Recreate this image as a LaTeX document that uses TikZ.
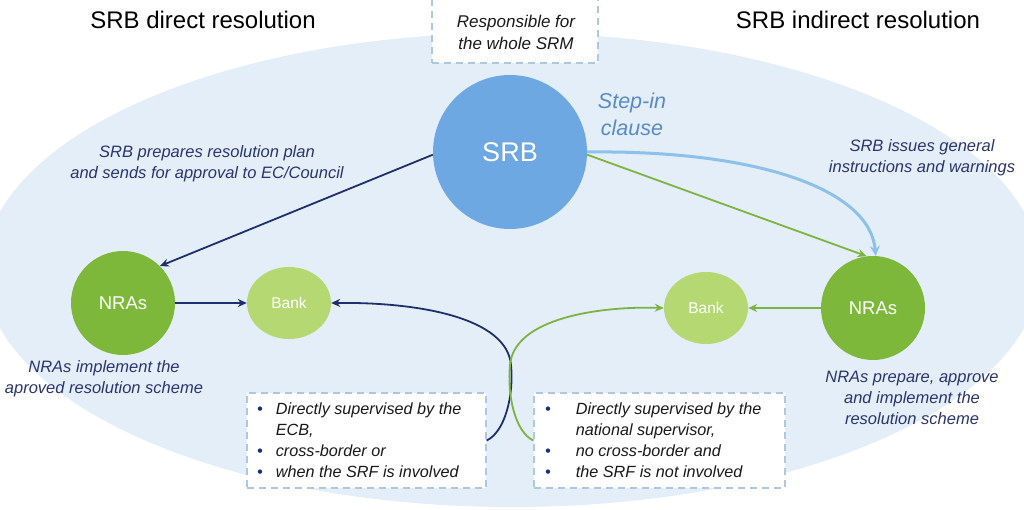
\documentclass[tikz,border=0pt]{standalone}
\usepackage{fontspec}
\setmainfont{Liberation Sans}
\usetikzlibrary{shapes.geometric,arrows.meta}
\definecolor{bgell}{HTML}{E4EEF8}
\definecolor{srbblue}{HTML}{6EA8E2}
\definecolor{nragreen}{HTML}{7DB83A}
\definecolor{bankgreen}{HTML}{B5D872}
\definecolor{navy}{HTML}{1F2F6E}
\definecolor{labelnavy}{HTML}{2A3470}
\definecolor{lightarrow}{HTML}{8DC0EA}
\definecolor{greenarrow}{HTML}{7CB342}
\definecolor{stepblue}{HTML}{5A8AC6}
\definecolor{dashcol}{HTML}{AFC8DE}
\definecolor{boxtext}{HTML}{1A1A1A}
\begin{document}
\begin{tikzpicture}[x=1pt,y=-1pt,
  bigcircle/.style={circle, fill=srbblue, minimum size=154pt, inner sep=0pt, text=white, font=\fontsize{27}{30}\selectfont},
  nracircle/.style={circle, fill=nragreen, minimum size=104pt, inner sep=0pt, text=white, font=\fontsize{18.5}{22}\selectfont},
  bankell/.style={ellipse, fill=bankgreen, minimum width=84pt, minimum height=72pt, inner sep=0pt, text=white, font=\fontsize{15.5}{18}\selectfont},
  dbox/.style={rectangle, draw=dashcol, fill=white, line width=1.3pt, dash pattern=on 7pt off 5pt, inner sep=0pt},
  navyarr/.style={draw=navy, line width=1.8pt, -{Stealth[length=9pt,width=8pt]}},
  greenarr/.style={draw=greenarrow, line width=1.8pt, -{Stealth[length=9pt,width=8pt]}},
  bluearr/.style={draw=lightarrow, line width=3pt, -{Stealth[length=10pt,width=10pt]}},
  heading/.style={font=\fontsize{24}{28}\selectfont, text=black},
  label/.style={font=\itshape\fontsize{16.5}{21}\selectfont, text=labelnavy, align=center},
  boxlist/.style={font=\itshape\fontsize{16.2}{21}\selectfont, text=boxtext, inner sep=0pt, anchor=north west}
]
\useasboundingbox (0,0) rectangle (1024,510);
\clip (0,0) rectangle (1024,510);
\fill[bgell] (512,270) ellipse [x radius=528pt, y radius=237pt];

% headings
\node[heading] (hleft) at (203,20) {SRB direct resolution};
\node[heading] (hright) at (858,20) {SRB indirect resolution};

% top box
\node[dbox, minimum width=166pt, minimum height=70pt] (topbox) at (515,28) {};
\node[font=\itshape\fontsize{17}{22}\selectfont, text=boxtext, align=center] (toptext) at (516,32) {Responsible for\\the whole SRM};

% main nodes
\node[bigcircle] (srb) at (510,152) {SRB};
\node[nracircle] (lnra) at (123,303) {NRAs};
\node[nracircle] (rnra) at (873,308) {NRAs};
\node[bankell] (lbank) at (289,303) {Bank};
\node[bankell] (rbank) at (706,308) {Bank};

% labels
\node[font=\itshape\fontsize{21.5}{27}\selectfont, text=stepblue, align=center] (stepin) at (632,114) {Step-in\\clause};
\node[label] (lplan) at (207,164) {SRB prepares resolution plan\\and sends for approval to EC/Council};
\node[label] (rinstr) at (922,158) {SRB issues general\\instructions and warnings};
\node[label] (limpl) at (104,379) {NRAs implement the\\aproved resolution scheme};
\node[label] (rimpl) at (912,398) {NRAs prepare, approve\\and implement the\\resolution scheme};

% boxes
\node[dbox, minimum width=239pt, minimum height=95pt] (lbox) at (366.5,440.5) {};
\node[dbox, minimum width=251pt, minimum height=95pt] (rbox) at (659.5,440.5) {};
\node[boxlist] (ltext) at (257,400) {\begin{tabular}{@{}c@{\hspace{13pt}}l@{}}
{\color{navy}\textbullet} & Directly supervised by the\\
 & ECB,\\
{\color{navy}\textbullet} & cross-border or\\
{\color{navy}\textbullet} & when the SRF is involved
\end{tabular}};
\node[boxlist] (rtext) at (545,400) {\begin{tabular}{@{}c@{\hspace{25pt}}l@{}}
{\color{navy}\textbullet} & Directly supervised by the\\
 & national supervisor,\\
{\color{navy}\textbullet} & no cross-border and\\
{\color{navy}\textbullet} & the SRF is not involved
\end{tabular}};

% connectors
\draw[navyarr] (srb.182) -- (lnra.45);
\draw[navyarr] (lnra.east) -- (lbank.west);
\draw[bluearr] (srb.east) .. controls (760,150) and (870,190) .. (rnra.87);
\draw[greenarr] (srb.-2) -- (rnra.97);
\draw[greenarr] (rnra.west) -- (rbank.east);
\draw[navyarr] (lbox.east) .. controls (505,432) and (514,395) .. (511,365) .. controls (507,318) and (420,302) .. (lbank.east);
\draw[greenarr] (rbox.west) .. controls (515,432) and (507,395) .. (510,365) .. controls (514,318) and (600,306) .. (rbank.west);
\end{tikzpicture}
\end{document}
